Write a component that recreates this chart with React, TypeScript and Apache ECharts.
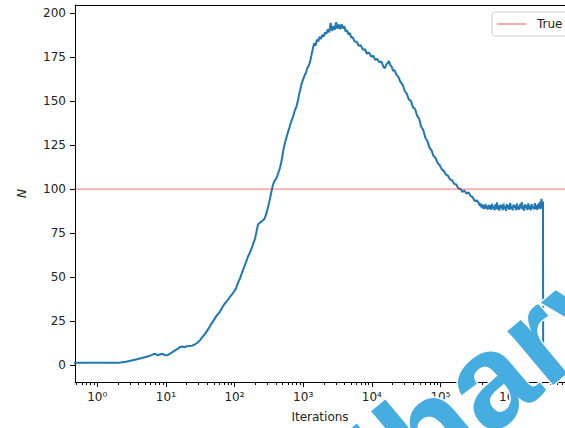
import React, { useEffect, useRef } from "react";
import * as echarts from "echarts";

// log10(iterations) of each sample and N at that iteration
const logIter: number[] = [
  -0.6, 0.0, 0.3, 0.34, 0.42, 0.5, 0.58, 0.65, 0.72, 0.78, 0.83, 0.86, 0.88, 0.91, 0.95, 0.98, 1.02, 1.06, 1.1, 1.14,
  1.18, 1.21, 1.24, 1.27, 1.3, 1.34, 1.38, 1.42, 1.46, 1.5, 1.54, 1.58, 1.62, 1.66, 1.7, 1.74, 1.78, 1.82, 1.86, 1.9,
  1.93, 1.96, 1.99, 2.02, 2.05, 2.08, 2.11, 2.14, 2.17, 2.2, 2.23, 2.26, 2.28,
  2.3, 2.32, 2.34, 2.36, 2.38, 2.4, 2.42, 2.44, 2.46, 2.48, 2.5, 2.52, 2.54, 2.56, 2.58, 2.6, 2.62, 2.64, 2.66, 2.68,
  2.7, 2.72, 2.74, 2.76, 2.78, 2.8, 2.82, 2.84, 2.86, 2.88, 2.9, 2.92, 2.94, 2.96, 2.98, 3.0, 3.02, 3.04, 3.06, 3.08,
  3.1, 3.12, 3.14, 3.16, 3.18, 3.2, 3.22, 3.24, 3.26, 3.28, 3.3, 3.32, 3.34, 3.36, 3.38, 3.4, 3.42, 3.44, 3.46, 3.48,
  3.5, 3.52, 3.54, 3.56, 3.58, 3.6, 3.62, 3.64, 3.66, 3.68, 3.7,
  3.72, 3.75, 3.78, 3.81, 3.84, 3.87, 3.9, 3.93, 3.96, 3.99, 4.02, 4.05, 4.08, 4.11, 4.14, 4.17, 4.19, 4.21, 4.23, 4.25,
  4.27, 4.29, 4.31, 4.33, 4.36, 4.39, 4.42, 4.45, 4.48, 4.51, 4.54, 4.57, 4.6, 4.63, 4.66, 4.69, 4.72, 4.75, 4.78, 4.81,
  4.84, 4.87, 4.9, 4.93, 4.96, 4.99, 5.02, 5.05, 5.08, 5.11, 5.14, 5.17, 5.2, 5.23, 5.26, 5.29, 5.32, 5.35, 5.38, 5.41,
  5.44, 5.47, 5.5, 5.53,
  5.56, 5.572, 5.584, 5.596, 5.608, 5.62, 5.632, 5.644, 5.656, 5.668, 5.68, 5.692, 5.704, 5.716, 5.728, 5.74, 5.752,
  5.764, 5.776, 5.788, 5.8, 5.812, 5.824, 5.836, 5.848, 5.86, 5.872, 5.884, 5.896, 5.908, 5.92, 5.932, 5.944, 5.956,
  5.968, 5.98, 5.992, 6.004, 6.016, 6.028, 6.04, 6.052, 6.064, 6.076, 6.088, 6.1, 6.112, 6.124, 6.136, 6.148, 6.16,
  6.172, 6.184, 6.196, 6.208, 6.22, 6.232, 6.244, 6.256, 6.268, 6.28, 6.292, 6.304, 6.316, 6.328, 6.34, 6.352, 6.364,
  6.376, 6.388, 6.4, 6.412, 6.424, 6.436, 6.448, 6.46, 6.472, 6.484, 6.494, 6.497,
];

const nValues: number[] = [
  1.2, 1.2, 1.2, 1.3, 1.8, 2.5, 3.2, 3.9, 4.6, 5.4, 6.3, 6.0, 5.4, 5.9, 6.3, 5.6, 5.4, 6.4, 7.4, 8.4,
  9.4, 10.2, 10.5, 9.9, 10.6, 10.7, 10.9, 11.6, 12.6, 14.2, 16.2, 18.2, 20.6, 23.2, 25.6, 28.0, 29.8, 32.6, 35.0, 36.8,
  38.6, 40.0, 41.6, 43.4, 46.6, 49.2, 52.6, 55.6, 58.8, 62.0, 64.4, 67.6, 69.8,
  72.0, 75.8, 79.6, 80.6, 81.2, 81.8, 82.4, 83.4, 85.6, 88.6, 91.6, 95.2, 99.0, 102.4, 104.6, 105.6, 107.0, 109.6, 111.8, 115.0,
  119.6, 124.0, 127.0, 129.8, 132.6, 135.0, 137.8, 139.8, 142.2, 145.0, 146.6, 149.8, 153.6, 157.0, 160.4, 162.4, 164.6, 166.2, 168.8, 170.2,
  172.4, 176.0, 179.8, 183.0, 181.6, 185.0, 184.0, 186.6, 185.4, 187.8, 186.8, 189.2, 188.4, 191.0, 189.2, 194.6, 190.0, 192.8, 190.6, 195.0,
  191.2, 193.6, 191.0, 193.8, 191.4, 192.6, 189.6, 190.4, 188.0, 188.8, 186.2,
  186.5, 184.0, 183.8, 181.5, 181.8, 179.2, 179.6, 177.0, 177.8, 175.4, 175.9, 173.6, 174.0, 172.2, 172.6, 169.6, 168.8, 170.8, 171.6, 172.8,
  170.5, 169.6, 167.2, 167.8, 165.0, 163.6, 160.8, 159.4, 155.8, 154.2, 151.0, 150.2, 146.5, 145.6, 141.8, 140.0, 135.5, 133.6, 129.2, 127.4,
  123.6, 122.0, 118.8, 117.6, 114.8, 113.6, 111.2, 110.4, 108.2, 107.6, 105.4, 105.0, 103.0, 102.6, 100.4, 100.2, 98.4, 99.2, 97.4, 98.2,
  96.0, 95.4, 93.2, 93.6,
  92.0, 90.5, 91.8, 89.6, 91.2, 89.0, 90.8, 88.6, 91.5, 89.2, 90.4, 88.3, 91.0, 88.8, 90.9, 88.2, 91.6,
  89.0, 90.2, 87.9, 91.3, 88.6, 92.4, 88.4, 90.6, 87.8, 91.1, 89.3, 90.9, 88.1, 91.7, 88.7, 90.3, 87.6,
  91.4, 89.1, 90.8, 88.2, 92.1, 88.9, 90.5, 87.9, 91.2, 89.4, 90.7, 88.0, 91.8, 88.6, 90.2, 88.3, 91.5,
  89.0, 92.6, 88.5, 90.4, 87.7, 91.3, 89.2, 90.8, 88.1, 91.9, 88.8, 90.6, 87.9, 91.4, 89.3, 90.1, 88.4,
  92.0, 88.7, 90.9, 88.2, 91.6, 89.1, 92.8, 88.6, 94.5, 89.5, 93.0, 1.0,
];

const trueValue = 100;
const majorExponents: number[] = [0, 1, 2, 3, 4, 5, 6];
const superscripts: string[] = ["⁰", "¹", "²", "³", "⁴", "⁵", "⁶"];
const yTicks: number[] = [0, 25, 50, 75, 100, 125, 150, 175, 200];

const X_MIN = -0.3245;
const X_MAX = 6.815;
const Y_MIN = -9.75;
const Y_MAX = 204.75;

const minorTicks: number[] = [];
for (let e = -1; e <= 6; e++) {
  for (let m = 2; m <= 9; m++) {
    const v = Math.log10(m) + e;
    if (v > X_MIN && v < X_MAX) minorTicks.push(v);
  }
}

const FONT = "DejaVu Sans";

export default function App() {
  const ref = useRef<HTMLDivElement>(null);
  useEffect(() => {
    if (!ref.current) return;
    const chart = echarts.init(ref.current, undefined, { renderer: "svg" });
    const lineData = logIter.map((x, i) => [x, nValues[i]]);
    const axisLine = { show: true, onZero: false, lineStyle: { color: "#000", width: 1 } };
    chart.setOption({
      animation: false,
      backgroundColor: "#fff",
      grid: { left: 75, top: 5, right: -14, bottom: 46, containLabel: false },
      legend: {
        data: [{ name: "True", icon: "rect" }],
        left: 492,
        top: 12,
        itemWidth: 29,
        itemHeight: 1.5,
        padding: [6, 8, 6, 5],
        backgroundColor: "rgba(255,255,255,0.8)",
        borderColor: "#cccccc",
        borderWidth: 1,
        borderRadius: 3,
        textStyle: { fontFamily: FONT, fontSize: 12, color: "#222", padding: [0, 0, 0, 6] },
      },
      xAxis: [
        {
          type: "value",
          min: X_MIN,
          max: X_MAX,
          position: "bottom",
          axisLine,
          splitLine: { show: false },
          axisTick: { show: true, customValues: majorExponents, length: 5, lineStyle: { color: "#000" } },
          axisLabel: {
            customValues: majorExponents,
            margin: 9,
            fontFamily: FONT,
            fontSize: 12,
            color: "#222",
            formatter: (v: number) => "10" + superscripts[Math.round(v)],
          },
          name: "Iterations",
          nameLocation: "middle",
          nameGap: 29,
          nameTextStyle: { fontFamily: FONT, fontSize: 12, color: "#222" },
        },
        {
          type: "value",
          min: X_MIN,
          max: X_MAX,
          position: "bottom",
          axisLine: { show: false, onZero: false },
          splitLine: { show: false },
          axisTick: { show: true, customValues: minorTicks, length: 3, lineStyle: { color: "#000" } },
          axisLabel: { show: false },
        },
        {
          type: "value",
          min: X_MIN,
          max: X_MAX,
          position: "top",
          axisLine,
          splitLine: { show: false },
          axisTick: { show: false },
          axisLabel: { show: false },
        },
      ],
      yAxis: {
        type: "value",
        min: Y_MIN,
        max: Y_MAX,
        position: "left",
        axisLine,
        splitLine: { show: false },
        axisTick: { show: true, customValues: yTicks, length: 5, lineStyle: { color: "#000" } },
        axisLabel: { customValues: yTicks, margin: 9, fontFamily: FONT, fontSize: 12, color: "#222" },
        name: "N",
        nameLocation: "middle",
        nameRotate: 90,
        nameGap: 47,
        nameTextStyle: { fontFamily: FONT, fontSize: 12, fontStyle: "italic", color: "#222" },
      },
      series: [
        {
          name: "N",
          type: "line",
          data: lineData,
          showSymbol: false,
          clip: true,
          lineStyle: { color: "#1f77b4", width: 2 },
          z: 2,
        },
        {
          name: "True",
          type: "line",
          data: [
            [-2, trueValue],
            [8, trueValue],
          ],
          showSymbol: false,
          clip: true,
          itemStyle: { color: "rgba(255,0,0,0.45)" },
          lineStyle: { color: "rgba(255,0,0,0.45)", width: 1.4 },
          z: 3,
        },
      ],
      graphic: [
        {
          type: "text",
          x: 368,
          y: 480,
          rotation: 0.7,
          z: 100,
          style: {
            text: "iharv",
            font: 'bold 134px "Liberation Sans"',
            fill: "#45ade0",
            stroke: "#ffffff",
            lineWidth: 3,
            textAlign: "left",
            verticalAlign: "middle",
            shadowColor: "rgba(0,0,0,0.45)",
            shadowBlur: 3,
            shadowOffsetX: 4,
            shadowOffsetY: 4,
          },
        },
      ],
    });
    return () => chart.dispose();
  }, []);
  return (
    <div
      ref={ref}
      style={{ position: "absolute", left: 0, top: 0, width: 565, height: 428, overflow: "hidden" }}
    />
  );
}
